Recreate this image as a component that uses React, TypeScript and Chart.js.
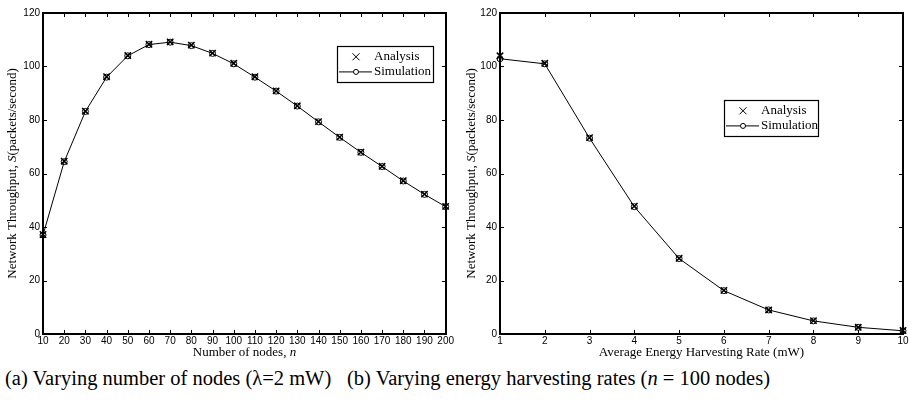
import React, { useEffect, useRef } from "react";
import { Chart, registerables } from "chart.js";
Chart.register(...registerables);

const nodeCounts = [10, 20, 30, 40, 50, 60, 70, 80, 90, 100, 110, 120, 130, 140, 150, 160, 170, 180, 190, 200];
const analysisByNodes = [37.2, 64.6, 83.3, 96.2, 104.1, 108.3, 109.2, 108.0, 105.0, 101.2, 96.2, 90.9, 85.3, 79.4, 73.6, 68.0, 62.7, 57.3, 52.3, 47.7];
const simulationByNodes = [37.0, 64.4, 83.2, 96.0, 104.0, 108.2, 109.1, 107.8, 104.9, 101.0, 96.0, 90.8, 85.2, 79.3, 73.5, 67.9, 62.6, 57.2, 52.2, 47.6];

const harvestRates = [1, 2, 3, 4, 5, 6, 7, 8, 9, 10];
const analysisByRate = [104.0, 101.2, 73.4, 47.8, 28.3, 16.3, 9.0, 5.0, 2.5, 1.3];
const simulationByRate = [102.9, 101.0, 73.2, 47.6, 28.2, 16.2, 9.0, 4.9, 2.5, 1.2];

const yMin = 0;
const yMax = 120;
const yStep = 20;

const legendLabels = ["Analysis", "Simulation"];

type Seg = { t: string; i?: boolean };

const SERIF = "'Liberation Serif', 'Times New Roman', serif";
const SANS = "'Liberation Sans', Arial, sans-serif";

function drawSegs(ctx: CanvasRenderingContext2D, segs: Seg[], cx: number, cy: number, size: number) {
  let total = 0;
  for (const s of segs) {
    ctx.font = `${s.i ? "italic " : ""}${size}px ${SERIF}`;
    total += ctx.measureText(s.t).width;
  }
  let x = cx - total / 2;
  ctx.textBaseline = "middle";
  ctx.textAlign = "left";
  for (const s of segs) {
    ctx.font = `${s.i ? "italic " : ""}${size}px ${SERIF}`;
    ctx.fillText(s.t, x, cy);
    x += ctx.measureText(s.t).width;
  }
}

// MATLAB-style box, inward ticks, axis titles and legend, drawn on an overlay canvas
// at the pixel positions given by the Chart.js scales. Box and ticks are filled rectangles.
function drawOverlay(chart: any, octx: CanvasRenderingContext2D, cfg: any) {
  const xs = chart.scales.x;
  const ys = chart.scales.y;
  const left = Math.round(Number(xs.getPixelForValue(cfg.xMin)));
  const right = Math.round(Number(xs.getPixelForValue(cfg.xMax)));
  const top = Math.round(Number(ys.getPixelForValue(yMax)));
  const bottom = Math.round(Number(ys.getPixelForValue(yMin)));
  const ctx = octx;
  ctx.setTransform(1, 0, 0, 1, 0, 0);
  ctx.clearRect(0, 0, ctx.canvas.width, ctx.canvas.height);
  ctx.save();
  ctx.globalAlpha = 1;
  ctx.globalCompositeOperation = "source-over";

  // box
  ctx.fillStyle = "#000";
  const W = 2;
  ctx.fillRect(left - 1, top - 1, right - left + 2, W);
  ctx.fillRect(left - 1, bottom - 1, right - left + 2, W);
  ctx.fillRect(left - 1, top - 1, W, bottom - top + 2);
  ctx.fillRect(right - 1, top - 1, W, bottom - top + 2);

  // inward ticks
  const L = 4;
  for (let v = cfg.xMin; v <= cfg.xMax + 1e-9; v += cfg.xStep) {
    const px = Math.round(Number(xs.getPixelForValue(v)));
    ctx.fillRect(px, bottom - L, 1, L);
    ctx.fillRect(px, top, 1, L);
  }
  for (let v = yMin; v <= yMax + 1e-9; v += yStep) {
    const py = Math.round(Number(ys.getPixelForValue(v)));
    ctx.fillRect(left, py, L, 1);
    ctx.fillRect(right - L, py, L, 1);
  }

  // axis titles
  drawSegs(ctx, cfg.xTitle, (left + right) / 2, cfg.xTitleY, 13);
  ctx.save();
  ctx.translate(cfg.yTitleX, (top + bottom) / 2);
  ctx.rotate(-Math.PI / 2);
  drawSegs(ctx, cfg.yTitle, 0, 0, 13);
  ctx.restore();

  // legend
  const b = cfg.legendBox;
  ctx.fillStyle = "#fff";
  ctx.fillRect(b.x, b.y, b.w, b.h);
  ctx.lineWidth = 1.2;
  ctx.strokeStyle = "#000";
  ctx.strokeRect(b.x + 0.5, b.y + 0.5, b.w, b.h);
  ctx.fillStyle = "#000";
  ctx.font = `13px ${SERIF}`;
  ctx.textBaseline = "middle";
  ctx.textAlign = "left";
  const r1 = b.y + b.h * 0.3;
  const r2 = b.y + b.h * 0.72;
  const mx = b.x + 19;
  ctx.lineWidth = 1;
  ctx.beginPath();
  ctx.moveTo(mx - 3.5, r1 - 3.5);
  ctx.lineTo(mx + 3.5, r1 + 3.5);
  ctx.moveTo(mx + 3.5, r1 - 3.5);
  ctx.lineTo(mx - 3.5, r1 + 3.5);
  ctx.moveTo(b.x + 2, r2);
  ctx.lineTo(b.x + 35, r2);
  ctx.stroke();
  ctx.beginPath();
  ctx.arc(mx, r2, 2.5, 0, Math.PI * 2);
  ctx.fillStyle = "#fff";
  ctx.fill();
  ctx.stroke();
  ctx.fillStyle = "#000";
  ctx.fillText(legendLabels[0], b.x + 37, r1);
  ctx.fillText(legendLabels[1], b.x + 37, r2);
  ctx.restore();
}

function makeConfig(xv: number[], an: number[], sim: number[], xMin: number, xMax: number, xStep: number, yAxisWidth: number, padRight: number) {
  return {
    type: "line",
    data: {
      datasets: [
        {
          label: legendLabels[0],
          data: xv.map((x, i) => ({ x, y: an[i] })),
          showLine: false,
          pointStyle: "crossRot",
          pointRadius: 4.5,
          pointBorderWidth: 1.5,
          borderColor: "#000",
          backgroundColor: "#000",
          clip: 8,
        },
        {
          label: legendLabels[1],
          data: xv.map((x, i) => ({ x, y: sim[i] })),
          showLine: true,
          borderColor: "#000",
          borderWidth: 1,
          pointStyle: "circle",
          pointRadius: 3,
          pointBorderWidth: 1,
          pointBackgroundColor: "rgba(0,0,0,0)",
          pointBorderColor: "#000",
          tension: 0,
          clip: 8,
        },
      ],
    },
    options: {
      animation: false,
      responsive: false,
      maintainAspectRatio: false,
      layout: { padding: { top: 13, right: padRight, left: 0, bottom: 0 } },
      plugins: {
        legend: { display: false },
        tooltip: { enabled: false },
      },
      scales: {
        x: {
          type: "linear",
          min: xMin,
          max: xMax,
          grid: { display: false, drawTicks: false },
          border: { display: false },
          ticks: {
            stepSize: xStep,
            autoSkip: false,
            maxRotation: 0,
            padding: 1,
            color: "#000",
            font: { family: SANS, size: 10 },
          },
          afterFit: (s: any) => {
            s.height = 28;
          },
        },
        y: {
          type: "linear",
          min: yMin,
          max: yMax,
          grid: { display: false, drawTicks: false },
          border: { display: false },
          ticks: {
            stepSize: yStep,
            padding: 3,
            color: "#000",
            font: { family: SANS, size: 10 },
          },
          afterFit: (s: any) => {
            s.width = yAxisWidth;
          },
        },
      },
    },
  };
}

function ChartPanel({ build, deco, width, height, left }: { build: () => any; deco: any; width: number; height: number; left: number }) {
  const ref = useRef<HTMLCanvasElement | null>(null);
  const overlay = useRef<HTMLCanvasElement | null>(null);
  useEffect(() => {
    if (!ref.current || !overlay.current) return;
    const c = new Chart(ref.current, build());
    const octx = overlay.current.getContext("2d");
    if (octx) drawOverlay(c, octx, deco);
    return () => c.destroy();
  }, [build, deco]);
  return (
    <div style={{ position: "absolute", left, top: 0, width, height }}>
      <canvas ref={ref} width={width} height={height} style={{ position: "absolute", left: 0, top: 0, width, height, display: "block" }} />
      <canvas ref={overlay} width={width} height={height} style={{ position: "absolute", left: 0, top: 0, width, height, display: "block", pointerEvents: "none" }} />
    </div>
  );
}

const buildLeft = () => makeConfig(nodeCounts, analysisByNodes, simulationByNodes, 10, 200, 10, 43, 7);
const buildRight = () => makeConfig(harvestRates, analysisByRate, simulationByRate, 1, 10, 1, 45, 22);

const decoLeft = {
  xMin: 10,
  xMax: 200,
  xStep: 10,
  xTitle: [{ t: "Number of nodes, " }, { t: "n", i: true }],
  yTitle: [{ t: "Network Throughput, " }, { t: "S", i: true }, { t: "(packets/second)" }],
  xTitleY: 353,
  yTitleX: 13,
  legendBox: { x: 337, y: 46, w: 96, h: 36 },
};

const decoRight = {
  xMin: 1,
  xMax: 10,
  xStep: 1,
  xTitle: [{ t: "Average Energy Harvesting Rate (mW)" }],
  yTitle: [{ t: "Network Throughput, " }, { t: "S", i: true }, { t: "(packets/second)" }],
  xTitleY: 353,
  yTitleX: 17,
  legendBox: { x: 269, y: 100, w: 94, h: 36 },
};

export default function App() {
  const cap: React.CSSProperties = {
    position: "absolute",
    top: 364,
    fontFamily: SERIF,
    fontSize: 20.5,
    whiteSpace: "nowrap",
    color: "#000",
    lineHeight: "28px",
  };
  return (
    <div style={{ position: "fixed", left: 0, top: 0, width: 909, height: 410, overflow: "hidden", background: "#fff" }}>
      <ChartPanel build={buildLeft} deco={decoLeft} width={455} height={362} left={0} />
      <ChartPanel build={buildRight} deco={decoRight} width={470} height={362} left={455} />
      <div style={{ ...cap, left: 5 }}>(a) Varying number of nodes (λ=2 mW)</div>
      <div style={{ ...cap, left: 347 }}>
        (b) Varying energy harvesting rates (<i>n</i> = 100 nodes)
      </div>
    </div>
  );
}
